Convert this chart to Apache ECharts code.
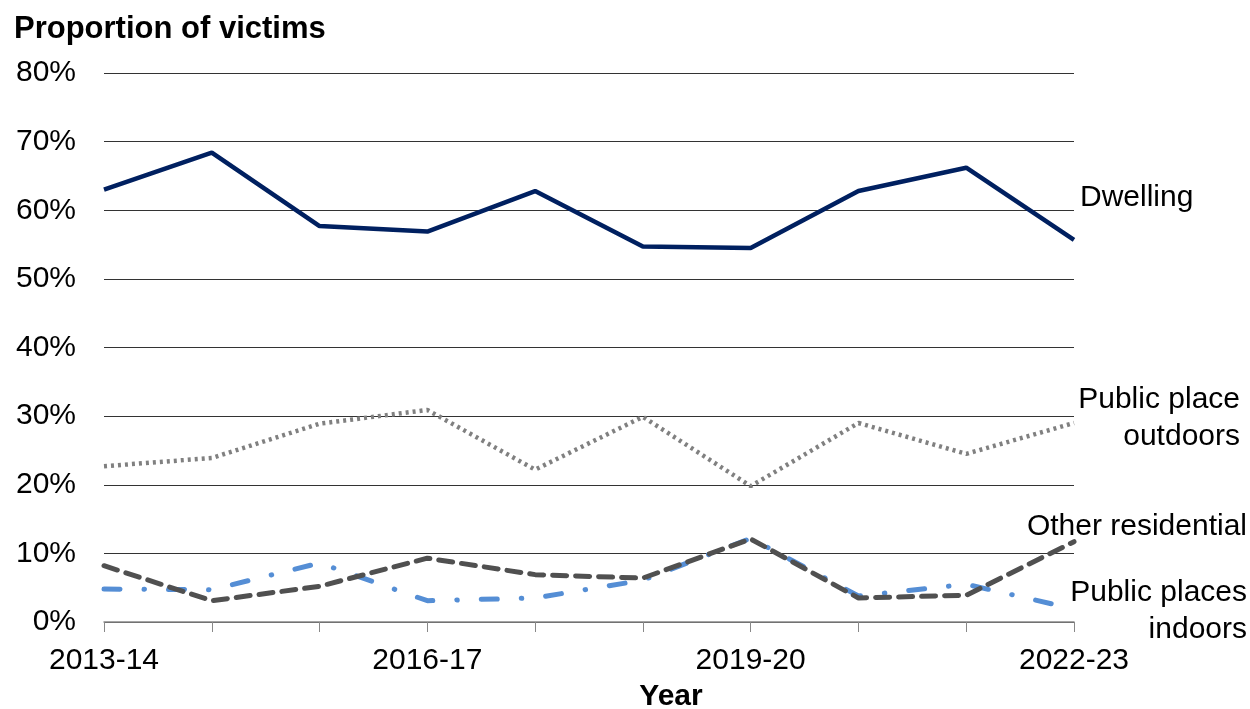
<!DOCTYPE html>
<html>
<head>
<meta charset="utf-8">
<script src="https://cdn.jsdelivr.net/npm/echarts@6/dist/echarts.min.js"></script>
<style>
  html, body { margin: 0; padding: 0; background: #fff; }
  #chart { width: 1250px; height: 709px; }
</style>
</head>
<body>
<div id="chart"></div>
<script>
var years = ['2013-14', '2014-15', '2015-16', '2016-17', '2017-18', '2018-19', '2019-20', '2020-21', '2021-22', '2022-23'];
var dwelling = [63.0, 68.4, 57.7, 56.9, 62.8, 54.7, 54.5, 62.8, 66.2, 55.7];
var outdoors = [22.7, 23.9, 28.9, 30.9, 22.2, 29.9, 19.8, 29.0, 24.5, 29.0];
var otherResidential = [8.2, 3.1, 5.2, 9.3, 6.9, 6.4, 12.1, 3.5, 3.9, 11.7];
var indoors = [4.8, 4.7, 8.6, 3.1, 3.5, 6.1, 12.2, 3.8, 5.5, 1.9];
var yTicks = [0, 10, 20, 30, 40, 50, 60, 70, 80];

var font = 'Liberation Sans, Arial, sans-serif';
var fs = 30;

var myChart = echarts.init(document.getElementById('chart'));

// end-of-line label helper
function endLabel(text, dx, dy, align) {
  return {
    show: true,
    formatter: text,
    offset: [dx, dy],
    align: align,
    color: '#000',
    fontFamily: font,
    fontSize: fs,
    lineHeight: 37
  };
}

myChart.setOption({
  animation: false,
  title: {
    text: 'Proportion of victims',
    left: 9,
    top: 9,
    textStyle: { fontFamily: font, fontSize: 31, fontWeight: 'bold', color: '#000' }
  },
  grid: { left: 104, right: 176, top: 73, bottom: 87, outerBoundsMode: 'none', containLabel: false },
  xAxis: {
    type: 'category',
    data: years,
    boundaryGap: false,
    name: 'Year',
    nameLocation: 'middle',
    nameGap: 60,
    nameTextStyle: { fontFamily: font, fontSize: fs, fontWeight: 'bold', color: '#000', padding: [0, 0, 0, 164] },
    axisLine: { lineStyle: { color: '#888', width: 1.5 } },
    axisTick: { show: true, inside: false, length: 10, interval: 0, lineStyle: { color: '#888' } },
    axisLabel: {
      interval: 2,
      margin: 24,
      fontFamily: font,
      fontSize: fs,
      color: '#000'
    },
    splitLine: { show: false }
  },
  yAxis: {
    type: 'value',
    min: yTicks[0],
    max: yTicks[yTicks.length - 1],
    interval: 10,
    axisLine: { show: false },
    axisTick: { show: false },
    axisLabel: {
      margin: 28,
      fontFamily: font,
      fontSize: fs,
      color: '#000',
      formatter: '{value}%'
    },
    splitLine: { lineStyle: { color: '#333', width: 1 } }
  },
  series: [
    {
      name: 'Dwelling',
      type: 'line',
      data: dwelling,
      symbol: 'none',
      lineStyle: { color: '#002060', width: 4.5, type: 'solid' },
      itemStyle: { color: '#002060' },
      endLabel: endLabel('Dwelling', -2, -42, 'left'),
      z: 4
    },
    {
      name: 'Public place outdoors',
      type: 'line',
      data: outdoors,
      symbol: 'none',
      lineStyle: { color: '#808080', width: 4.5, type: [3, 4] },
      itemStyle: { color: '#808080' },
      endLabel: endLabel('Public place\noutdoors', 158, -5, 'right'),
      z: 3
    },
    {
      name: 'Other residential',
      type: 'line',
      data: otherResidential,
      symbol: 'none',
      lineStyle: { color: '#505050', width: 5, type: [14, 9], cap: 'round' },
      itemStyle: { color: '#505050' },
      endLabel: endLabel('Other residential', 165, -15, 'right'),
      z: 2
    },
    {
      name: 'Public places indoors',
      type: 'line',
      data: indoors,
      symbol: 'none',
      lineStyle: { color: '#558ED5', width: 5, type: [16, 24, 0.5, 24], cap: 'round' },
      itemStyle: { color: '#558ED5' },
      endLabel: endLabel('Public places\nindoors', 165, 2, 'right'),
      z: 1
    }
  ]
});
</script>
</body>
</html>
